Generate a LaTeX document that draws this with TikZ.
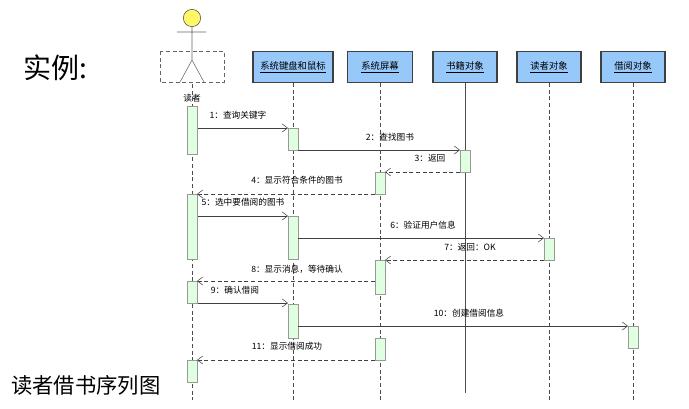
\documentclass[tikz,border=0pt]{standalone}
\usepackage{fontspec}
\setmainfont{Liberation Serif}
\newfontfamily\cjk{Noto Sans CJK SC}
\usetikzlibrary{arrows.meta}
\definecolor{objblue}{RGB}{150,200,250}
\begin{document}
\begin{tikzpicture}[x=0.75pt,y=-0.75pt,
 obj/.style={draw=black!75,line width=0.8pt,fill=objblue,minimum width=#1*0.75pt,minimum height=23pt,inner sep=0pt,font=\cjk\fontsize{7}{8}\selectfont},
 life/.style={draw=black!70,dash pattern=on 3pt off 2pt},
 act/.style={draw=black!40,fill=green!12},
 msg/.style={draw=black!75,-{Straight Barb[length=4pt,width=6pt]}},
 ret/.style={msg,dash pattern=on 3pt off 2pt},
 lab/.style={font=\cjk\fontsize{6.5}{8}\selectfont,inner sep=1pt}]
\useasboundingbox (0,0) rectangle (689,408);
\fill[white] (0,0) rectangle (689,408);
\node[font=\cjk\fontsize{21}{24}\selectfont] (t) at (55,68) {实例:};
\node[font=\cjk\fontsize{16}{18}\selectfont] (t2) at (86,385) {读者借书序列图};
% actor
\draw[black!60,dash pattern=on 3pt off 2pt] (160,51) rectangle (224,82);
\draw[fill=yellow!60,draw=black!70] (192,18) circle (6.5pt);
\draw[black!60] (192,27) -- (192,60) (177,32) -- (206,32) (192,60) -- (180,82) (192,60) -- (204,82);
\node[lab] (ra) at (192,98) {读者};
\node[obj=80] (k) at (293,67) {\underline{系统键盘和鼠标}};
\node[obj=65] (s) at (380,67) {\underline{系统屏幕}};
\node[obj=64] (b) at (465,67) {\underline{书籍对象}};
\node[obj=64] (r) at (549,67) {\underline{读者对象}};
\node[obj=64] (j) at (633,67) {\underline{借阅对象}};
\draw[life] (192,84) -- (192,400);
\draw[life] (k.south) -- (293,400);
\draw[life] (s.south) -- (380,400);
\draw[black!70] (b.south) -- (465,393);
\draw[life] (r.south) -- (549,400);
\draw[life] (j.south) -- (633,400);
% activations
\foreach \x/\a/\b in {192/106/154,293/128/150,465/150/172,380/172/194,192/194/259,293/216/259,549/238/260,380/260/294,192/281/303,293/304/338,633/326/348,380/338/360,192/360/382}
  \draw[act] (\x-5,\a) rectangle (\x+5,\b);
\coordinate (m1a) at (198,128); \coordinate (m1b) at (288,128);
\coordinate (m2a) at (298,150); \coordinate (m2b) at (460,150);
\coordinate (m3a) at (460,172); \coordinate (m3b) at (385,172);
\coordinate (m4a) at (375,194); \coordinate (m4b) at (197,194);
\coordinate (m5a) at (198,216); \coordinate (m5b) at (288,216);
\coordinate (m6a) at (298,238); \coordinate (m6b) at (544,238);
\coordinate (m7a) at (544,260); \coordinate (m7b) at (385,260);
\coordinate (m8a) at (375,281); \coordinate (m8b) at (197,281);
\coordinate (m9a) at (198,303); \coordinate (m9b) at (288,303);
\coordinate (m10a) at (298,326); \coordinate (m10b) at (628,326);
\coordinate (m11a) at (375,360); \coordinate (m11b) at (197,360);
\draw[msg] (m1a) -- (m1b); \draw[msg] (m2a) -- (m2b); \draw[ret] (m3a) -- (m3b);
\draw[ret] (m4a) -- (m4b); \draw[msg] (m5a) -- (m5b); \draw[msg] (m6a) -- (m6b);
\draw[ret] (m7a) -- (m7b); \draw[ret] (m8a) -- (m8b); \draw[msg] (m9a) -- (m9b);
\draw[msg] (m10a) -- (m10b); \draw[ret] (m11a) -- (m11b);
\node[lab] (l1) at (238,115) {1：查询关键字};
\node[lab] (l2) at (390,137) {2：查找图书};
\node[lab] (l3) at (430,158) {3：返回};
\node[lab] (l4) at (297,180) {4：显示符合条件的图书};
\node[lab] (l5) at (243,202) {5：选中要借阅的图书};
\node[lab] (l6) at (423,225) {6：验证用户信息};
\node[lab] (l7) at (470,247) {7：返回：OK};
\node[lab] (l8) at (297,269) {8：显示消息，等待确认};
\node[lab] (l9) at (235,290) {9：确认借阅};
\node[lab] (l10) at (469,313) {10：创建借阅信息};
\node[lab] (l11) at (287,346) {11：显示借阅成功};
\end{tikzpicture}
\end{document}
